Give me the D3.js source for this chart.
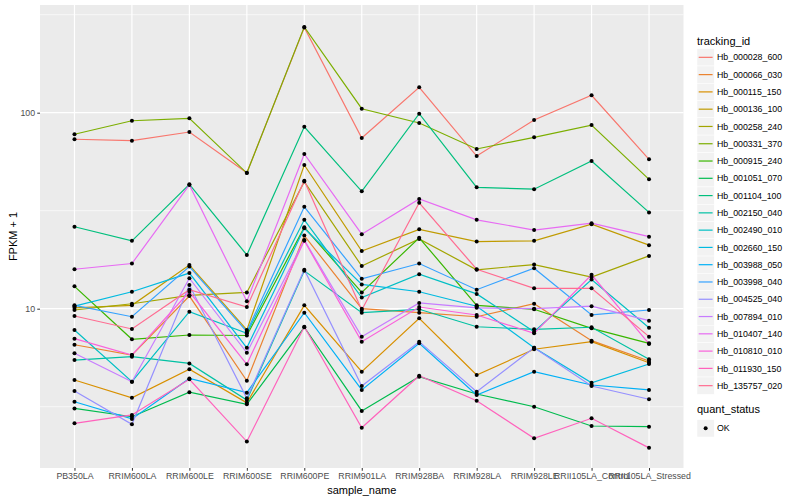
<!DOCTYPE html>
<html>
<head>
<meta charset="utf-8">
<script src="https://cdn.jsdelivr.net/npm/d3@7"></script>
<style>
body { margin: 0; background: #ffffff; }
text { font-family: "Liberation Sans", Arial, sans-serif; }
</style>
</head>
<body>
<div id="chart"></div>
<script>
var sampleNames = ["PB350LA", "RRIM600LA", "RRIM600LE", "RRIM600SE", "RRIM600PE", "RRIM901LA",
                   "RRIM928BA", "RRIM928LA", "RRIM928LE", "RRII105LA_Control", "RRII105LA_Stressed"];

var trackingIds = ["Hb_000028_600", "Hb_000066_030", "Hb_000115_150", "Hb_000136_100", "Hb_000258_240",
                   "Hb_000331_370", "Hb_000915_240", "Hb_001051_070", "Hb_001104_100", "Hb_002150_040",
                   "Hb_002490_010", "Hb_002660_150", "Hb_003988_050", "Hb_003998_040", "Hb_004525_040",
                   "Hb_007894_010", "Hb_010407_140", "Hb_010810_010", "Hb_011930_150", "Hb_135757_020"];

var hueColors = ["#F8766D", "#EA8331", "#D89000", "#C09B00", "#A3A500", "#7CAE00", "#39B600", "#00BB4E",
                 "#00BF7D", "#00C1A3", "#00BFC4", "#00BAE0", "#00B0F6", "#35A2FF", "#9590FF", "#C77CFF",
                 "#E76BF3", "#FA62DB", "#FF62BC", "#FF6C91"];

// FPKM + 1, one value per sample
var Hb_000028_600 = [73.2, 72.0, 79.7, 49.4, 272, 74.3, 134.8, 60.1, 91.8, 122.7, 57.8];
var Hb_000066_030 = [6.55, 5.80, 11.6, 4.29, 23.6, 10.0, 9.54, 9.10, 10.6, 6.87, 5.41];
var Hb_000115_150 = [4.33, 3.51, 4.91, 3.31, 10.4, 4.77, 8.93, 4.59, 6.21, 6.79, 5.30];
var Hb_000136_100 = [10.1, 10.4, 16.7, 7.79, 54.1, 19.7, 25.4, 22.0, 22.2, 27.0, 21.1];
var Hb_000258_240 = [9.85, 10.6, 11.7, 12.1, 44.5, 16.5, 22.7, 15.8, 16.8, 14.5, 18.6];
var Hb_000331_370 = [77.6, 91.0, 93.6, 49.2, 274, 104.8, 88.6, 65.3, 74.9, 86.5, 45.7];
var Hb_000915_240 = [13.0, 6.98, 7.34, 7.30, 26.0, 12.1, 23.0, 10.4, 9.93, 7.94, 6.66];
var Hb_001051_070 = [3.10, 2.81, 3.75, 3.25, 8.04, 3.01, 4.50, 3.67, 3.16, 2.52, 2.50];
var Hb_001104_100 = [26.2, 22.2, 43.1, 18.8, 84.8, 39.7, 98.8, 41.6, 40.7, 56.7, 31.0];
var Hb_002150_040 = [5.47, 5.69, 5.26, 3.42, 15.6, 9.54, 9.93, 8.09, 7.85, 8.04, 5.52];
var Hb_002490_010 = [7.79, 4.24, 9.65, 7.49, 28.4, 11.4, 15.0, 11.9, 7.63, 14.1, 8.00];
var Hb_002660_150 = [10.3, 12.2, 15.2, 6.32, 25.7, 13.3, 12.2, 10.3, 6.32, 4.19, 5.22];
var Hb_003988_050 = [3.35, 2.74, 4.41, 3.73, 9.54, 3.85, 6.66, 3.63, 4.77, 4.08, 3.85];
var Hb_003998_040 = [10.4, 9.10, 16.4, 7.63, 33.1, 14.2, 17.0, 12.5, 16.1, 9.29, 9.85];
var Hb_004525_040 = [3.80, 2.57, 13.2, 3.49, 15.8, 4.03, 6.79, 3.77, 6.32, 4.03, 3.45];
var Hb_007894_010 = [5.92, 4.24, 14.3, 5.96, 22.4, 7.20, 10.7, 10.1, 10.0, 10.3, 8.69];
var Hb_010407_140 = [15.9, 17.0, 42.8, 10.9, 61.6, 24.0, 36.3, 28.4, 25.2, 27.3, 23.3];
var Hb_010810_010 = [7.03, 5.80, 12.2, 5.20, 22.2, 6.79, 10.2, 9.29, 7.49, 14.9, 6.61];
var Hb_011930_150 = [2.60, 2.87, 4.36, 2.10, 8.09, 2.47, 4.55, 3.39, 2.18, 2.76, 1.95];
var Hb_135757_020 = [9.18, 7.88, 12.5, 10.2, 45.0, 9.85, 34.7, 15.9, 12.7, 12.7, 7.20];

var fpkmSeries = [Hb_000028_600, Hb_000066_030, Hb_000115_150, Hb_000136_100, Hb_000258_240,
                  Hb_000331_370, Hb_000915_240, Hb_001051_070, Hb_001104_100, Hb_002150_040,
                  Hb_002490_010, Hb_002660_150, Hb_003988_050, Hb_003998_040, Hb_004525_040,
                  Hb_007894_010, Hb_010407_140, Hb_010810_010, Hb_011930_150, Hb_135757_020];

var yMajor = [10, 100];
var yMinor = [Math.sqrt(10), Math.sqrt(1000), Math.sqrt(100000)];

var panel = {left: 40, right: 683.5, top: 5, bottom: 468};

var svg = d3.select("#chart").append("svg")
            .attr("width", 800)
            .attr("height", 500);

var x = d3.scalePoint()
          .domain(sampleNames)
          .range([panel.left, panel.right])
          .padding(0.6);

var y = d3.scaleLog()
          .domain([1.539, 354.4])
          .range([panel.bottom, panel.top]);

svg.append("rect")
   .attr("x", panel.left)
   .attr("y", panel.top)
   .attr("width", panel.right - panel.left)
   .attr("height", panel.bottom - panel.top)
   .style("fill", "#EBEBEB");

// grid
svg.selectAll("line.minor").data(yMinor).enter().append("line")
   .attr("x1", panel.left).attr("x2", panel.right)
   .attr("y1", function (d) { return y(d); })
   .attr("y2", function (d) { return y(d); })
   .style("stroke", "#ffffff").style("stroke-width", 0.6);

svg.selectAll("line.major").data(yMajor).enter().append("line")
   .attr("x1", panel.left).attr("x2", panel.right)
   .attr("y1", function (d) { return y(d); })
   .attr("y2", function (d) { return y(d); })
   .style("stroke", "#ffffff").style("stroke-width", 1.2);

svg.selectAll("line.vmajor").data(sampleNames).enter().append("line")
   .attr("y1", panel.top).attr("y2", panel.bottom)
   .attr("x1", function (d) { return x(d); })
   .attr("x2", function (d) { return x(d); })
   .style("stroke", "#ffffff").style("stroke-width", 1.2);

// lines then points
var line = d3.line()
             .x(function (d, i) { return x(sampleNames[i]); })
             .y(function (d) { return y(d); });

svg.selectAll("path.series").data(fpkmSeries).enter().append("path")
   .attr("d", line)
   .style("fill", "none")
   .style("stroke", function (d, i) { return hueColors[i]; })
   .style("stroke-width", 1.2);

fpkmSeries.forEach(function (vals) {
  svg.selectAll(null).data(vals).enter().append("circle")
     .attr("cx", function (d, i) { return x(sampleNames[i]); })
     .attr("cy", function (d) { return y(d); })
     .attr("r", 2)
     .style("fill", "#000000");
});

// axes
var xAxis = svg.append("g")
               .attr("transform", "translate(0," + panel.bottom + ")")
               .call(d3.axisBottom(x).tickSizeInner(2.75).tickSizeOuter(0).tickPadding(2.5));
var yAxis = svg.append("g")
               .attr("transform", "translate(" + panel.left + ",0)")
               .call(d3.axisLeft(y).tickValues(yMajor).tickFormat(d3.format("d"))
                       .tickSizeInner(2.75).tickSizeOuter(0).tickPadding(2.2));
[xAxis, yAxis].forEach(function (g) {
  g.select(".domain").remove();
  g.selectAll("line").style("stroke", "#333333");
  g.selectAll("text").style("fill", "#4D4D4D").style("font-size", "8.8px")
   .style("font-family", "'Liberation Sans', Arial, sans-serif");
});

svg.append("text")
   .attr("x", (panel.left + panel.right) / 2)
   .attr("y", 494)
   .attr("text-anchor", "middle")
   .style("font-size", "11px")
   .text("sample_name");

svg.append("text")
   .attr("transform", "translate(17," + ((panel.top + panel.bottom) / 2) + ") rotate(-90)")
   .attr("text-anchor", "middle")
   .style("font-size", "11px")
   .text("FPKM + 1");

// legend
var legend = svg.append("g").attr("transform", "translate(697,0)");
legend.append("text").attr("x", 0).attr("y", 45)
      .style("font-size", "11px").text("tracking_id");

var keys = legend.selectAll("g.key").data(trackingIds).enter().append("g")
                 .attr("transform", function (d, i) { return "translate(0," + (48.7 + i * 17.28) + ")"; });
keys.append("rect")
    .attr("width", 17.28).attr("height", 17.28)
    .style("fill", "#F2F2F2").style("stroke", "#ffffff").style("stroke-width", 0.5);
keys.append("line")
    .attr("x1", 1.7).attr("x2", 15.6).attr("y1", 8.64).attr("y2", 8.64)
    .style("stroke", function (d, i) { return hueColors[i]; })
    .style("stroke-width", 1.2);
keys.append("text")
    .attr("x", 20).attr("y", 11.8)
    .style("font-size", "8.8px")
    .text(function (d) { return d; });

legend.append("text").attr("x", 0).attr("y", 413)
      .style("font-size", "11px").text("quant_status");
var okKey = legend.append("g").attr("transform", "translate(0,419.7)");
okKey.append("rect")
     .attr("width", 17.28).attr("height", 17.28)
     .style("fill", "#F2F2F2").style("stroke", "#ffffff").style("stroke-width", 0.5);
okKey.append("circle").attr("cx", 8.64).attr("cy", 8.64).attr("r", 2).style("fill", "#000000");
okKey.append("text").attr("x", 20).attr("y", 11.8).style("font-size", "8.8px").text("OK");
</script>
</body>
</html>
